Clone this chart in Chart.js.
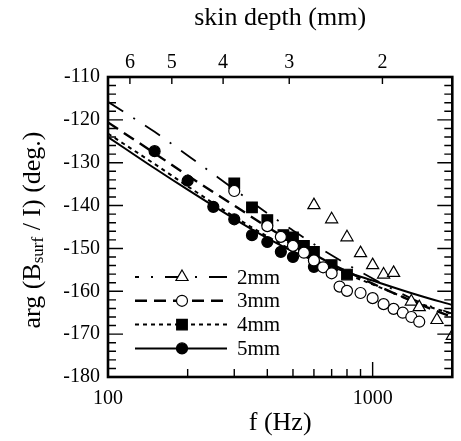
<!DOCTYPE html>
<html>
<head>
<meta charset="utf-8">
<script src="https://cdn.jsdelivr.net/npm/chart.js@4.4.1/dist/chart.umd.min.js"></script>
<style>
  html, body { margin: 0; padding: 0; background: #fff; }
  #wrap { width: 461px; height: 441px; }
</style>
</head>
<body>
<div id="wrap"><canvas id="myChart" width="461" height="441"></canvas></div>
<script>
// model curves
const curveFreqs = [100, 150, 200, 300, 400, 500, 700, 1000, 1500, 2000];
const curve2mm = [-115.8, -122.8, -128.3, -136.2, -141.8, -145.8, -151.6, -157.0, -162.5, -165.2];
const curve3mm = [-120.6, -127.8, -133.0, -140.0, -145.0, -148.6, -153.6, -158.2, -163.0, -166.0];
const curve4mm = [-123.2, -130.3, -135.5, -142.6, -147.2, -150.5, -154.6, -158.4, -162.8, -165.3];
const curve5mm = [-124.0, -131.3, -136.3, -143.1, -147.6, -150.7, -154.3, -157.5, -161.0, -163.2];

// measured points
const freqs2mm = [600, 700, 800, 900, 1000, 1100, 1200, 1400, 1500, 1750, 2000];
const phase2mm = [-139.9, -143.2, -147.4, -151.1, -153.9, -156.1, -155.7, -162.4, -163.7, -166.7, -170.4];
const freqs3mm = [300, 400, 450, 500, 550, 600, 650, 700, 750, 800, 900, 1000, 1100, 1200, 1300, 1400, 1500];
const phase3mm = [-136.6, -144.8, -147.3, -149.4, -151.0, -152.8, -154.4, -155.8, -158.9, -159.9, -160.4, -161.6, -163.0, -164.1, -165.0, -166.0, -167.1];
const freqs4mm = [300, 350, 400, 460, 500, 550, 600, 700, 800];
const phase4mm = [-134.8, -140.4, -143.4, -146.9, -147.4, -149.4, -150.8, -153.9, -156.1];
const freqs5mm = [150, 200, 250, 300, 350, 400, 450, 500, 600];
const phase5mm = [-127.3, -134.2, -140.3, -143.2, -146.9, -148.5, -150.8, -152.0, -154.3];

const seriesNames = ["2mm", "3mm", "4mm", "5mm"];
const yTicks = [-110, -120, -130, -140, -150, -160, -170, -180];
const xTicks = [100, 1000];
const xMinorTicks = [200, 300, 400, 500, 600, 700, 800, 900];
const depthTicks = [6, 5, 4, 3, 2];
const SKIN_K = 4356; // f (Hz) * depth^2 (mm^2)

const SERIF = "'Liberation Serif', 'Times New Roman', serif";

function pts(xs, ys) {
  return xs.map((x, i) => ({ x: x, y: ys[i] }));
}

const styles = [
  { dash: [18, 12, 2, 12], width: 1.8, point: "triangle", radius: 7, fill: "#fff" },
  { dash: [12, 7], width: 2.4, point: "circle", radius: 5.5, fill: "#fff" },
  { dash: [4, 4], width: 2, point: "rect", radius: 7.5, fill: "#000" },
  { dash: [], width: 2, point: "circle", radius: 5.5, fill: "#000" },
];

const curves = [curve2mm, curve3mm, curve4mm, curve5mm];
const measured = [
  [freqs2mm, phase2mm],
  [freqs3mm, phase3mm],
  [freqs4mm, phase4mm],
  [freqs5mm, phase5mm],
];
const pointOrder = [3, 1, 4, 2]; // open circles sit over the squares

const datasets = [];
seriesNames.forEach((name, i) => {
  const s = styles[i];
  datasets.push({
    label: name + " model",
    data: pts(curveFreqs, curves[i]),
    showLine: true,
    pointRadius: 0,
    borderColor: "#000",
    borderWidth: s.width,
    borderDash: s.dash,
    cubicInterpolationMode: "monotone",
    clip: 0,
    order: 10 + i,
  });
  datasets.push({
    label: name,
    data: pts(measured[i][0], measured[i][1]),
    showLine: false,
    pointStyle: s.point,
    pointRadius: s.radius,
    pointHoverRadius: s.radius,
    backgroundColor: s.fill,
    borderColor: "#000",
    borderWidth: 1.2,
    clip: 0,
    order: pointOrder[i],
  });
});

const decorPlugin = {
  id: "decor",
  afterDatasetsDraw(chart) {
    const { ctx, chartArea: a, scales } = chart;
    ctx.save();
    ctx.strokeStyle = "#000";
    ctx.lineCap = "butt";

    // inside ticks
    ctx.lineWidth = 1.4;
    ctx.beginPath();
    for (let v = -180; v <= -110; v += 2) {
      const y = scales.y.getPixelForValue(v);
      const len = v % 10 === 0 ? 15 : 8;
      ctx.moveTo(a.left, y);
      ctx.lineTo(a.left + len, y);
      ctx.moveTo(a.right, y);
      ctx.lineTo(a.right - len, y);
    }
    xMinorTicks.concat(xTicks).forEach((f) => {
      const x = scales.x.getPixelForValue(f);
      const len = xTicks.includes(f) ? 15 : 8;
      ctx.moveTo(x, a.bottom);
      ctx.lineTo(x, a.bottom - len);
    });
    depthTicks.forEach((d) => {
      const x = scales.x2.getPixelForValue(SKIN_K / (d * d));
      ctx.moveTo(x, a.top);
      ctx.lineTo(x, a.top + 7);
    });
    ctx.stroke();

    // frame
    ctx.lineWidth = 2.6;
    ctx.strokeRect(a.left, a.top, a.right - a.left, a.bottom - a.top);

    // legend
    const lx0 = 135, lx1 = 227, mx = 182;
    seriesNames.forEach((name, i) => {
      const s = styles[i];
      const y = 277 + i * 23.8;
      ctx.lineWidth = s.width;
      ctx.setLineDash(s.dash);
      ctx.lineDashOffset = i === 0 ? 14 : 0;
      ctx.beginPath();
      ctx.moveTo(lx0, y);
      ctx.lineTo(lx1, y);
      ctx.stroke();
      ctx.setLineDash([]);
      ctx.fillStyle = s.fill;
      ctx.lineWidth = 1.2;
      Chart.helpers.drawPoint(ctx, { pointStyle: s.point, radius: s.radius, rotation: 0, borderWidth: 1.2 }, mx, y);
      ctx.fillStyle = "#000";
      ctx.font = "21px " + SERIF;
      ctx.textAlign = "left";
      ctx.textBaseline = "middle";
      ctx.fillText(name, 237, y + 1);
    });

    // y title with subscript
    ctx.translate(33, 230);
    ctx.rotate(-Math.PI / 2);
    ctx.textBaseline = "middle";
    ctx.textAlign = "left";
    const big = "26px " + SERIF, small = "17px " + SERIF;
    const parts = [
      ["arg (B", big, 0],
      ["surf", small, 6],
      [" / I) (deg.)", big, 0],
    ];
    let total = 0;
    parts.forEach((p) => { ctx.font = p[1]; total += ctx.measureText(p[0]).width; });
    let x = -total / 2;
    parts.forEach((p) => {
      ctx.font = p[1];
      ctx.fillText(p[0], x, p[2]);
      x += ctx.measureText(p[0]).width;
    });
    ctx.restore();
  },
};

const tickFont = { family: SERIF, size: 20 };
const titleFont = { family: SERIF, size: 26 };

new Chart(document.getElementById("myChart"), {
  type: "scatter",
  data: { datasets: datasets },
  options: {
    responsive: false,
    animation: false,
    devicePixelRatio: 1,
    layout: { padding: { right: 4 } },
    plugins: { legend: { display: false }, tooltip: { enabled: false } },
    scales: {
      x: {
        type: "logarithmic",
        position: "bottom",
        min: 100,
        max: 2000,
        afterBuildTicks: (s) => { s.ticks = xTicks.map((v) => ({ value: v })); },
        afterFit: (s) => { s.height = 64; },
        ticks: { font: tickFont, color: "#000", padding: 10, autoSkip: false, maxRotation: 0, callback: (v) => String(v) },
        grid: { display: false, drawTicks: false },
        border: { display: false },
        title: { display: true, text: "f (Hz)", font: titleFont, color: "#000", padding: { top: 0, bottom: 2 } },
      },
      x2: {
        type: "logarithmic",
        position: "top",
        min: 100,
        max: 2000,
        afterBuildTicks: (s) => { s.ticks = depthTicks.map((d) => ({ value: SKIN_K / (d * d) })); },
        afterFit: (s) => { s.height = 77; },
        ticks: { font: tickFont, color: "#000", padding: 2, autoSkip: false, maxRotation: 0, callback: (v) => String(Math.round(Math.sqrt(SKIN_K / v))) },
        grid: { display: false, drawTicks: false },
        border: { display: false },
        title: { display: true, text: "skin depth (mm)", font: titleFont, color: "#000", padding: { top: 3, bottom: 0 } },
      },
      y: {
        type: "linear",
        position: "left",
        min: -180,
        max: -110,
        afterBuildTicks: (s) => { s.ticks = yTicks.map((v) => ({ value: v })); },
        afterFit: (s) => { s.width = 108; },
        ticks: { font: tickFont, color: "#000", padding: 8 },
        grid: { display: false, drawTicks: false },
        border: { display: false },
      },
    },
  },
  plugins: [decorPlugin],
});
</script>
</body>
</html>
